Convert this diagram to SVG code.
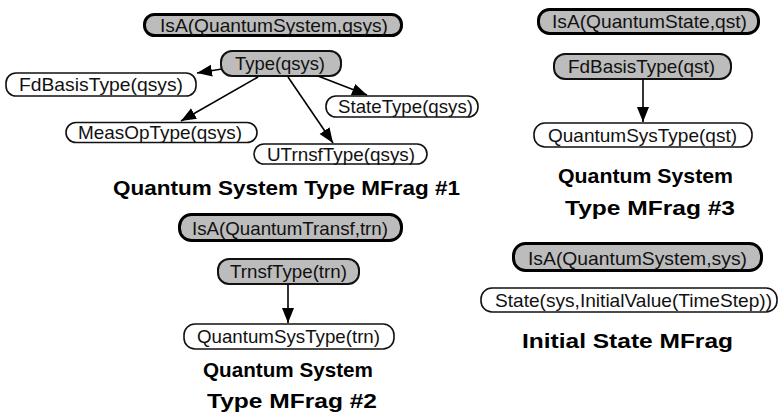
<svg xmlns="http://www.w3.org/2000/svg" width="780" height="416" viewBox="0 0 780 416">
  <defs>
    <marker id="arrow" markerUnits="userSpaceOnUse" markerWidth="16" markerHeight="14" refX="15" refY="6" orient="auto">
      <path d="M0,0 L15,6 L0,12 Z" fill="#000"/>
    </marker>
    <style>
      .ctx rect { fill: #bcbcbc; stroke: #000; stroke-width: 3; }
      .res rect { fill: #bcbcbc; stroke: #111; stroke-width: 2; }
      .inp rect { fill: #fff; stroke: #111; stroke-width: 1.6; }
      .lbl { font-family: "Liberation Sans", Arial, sans-serif; font-size: 18.5px; fill: #111; text-anchor: middle; }
      .title { font-family: "Liberation Sans", Arial, sans-serif; font-weight: bold; font-size: 21px; fill: #000; text-anchor: middle; }
      .edges line { stroke: #000; stroke-width: 1.6; marker-end: url(#arrow); }
    </style>
  </defs>
  <rect width="780" height="416" fill="#fff"/>

  <!-- Quantum System Type MFrag #1 -->
  <g id="isa_quantumsystem_qsys" class="ctx">
    <rect x="144.5" y="14.5" width="257" height="21" rx="10"/>
    <text class="lbl" x="274" y="31.5" textLength="228" lengthAdjust="spacingAndGlyphs">IsA(QuantumSystem,qsys)</text>
  </g>
  <g id="type_qsys" class="res">
    <rect x="221" y="51" width="120" height="25" rx="11"/>
    <text class="lbl" x="280" y="69.5" textLength="90" lengthAdjust="spacingAndGlyphs">Type(qsys)</text>
  </g>
  <g id="fdbasistype_qsys" class="inp">
    <rect x="6" y="73" width="190" height="23" rx="10"/>
    <text class="lbl" x="101" y="91" textLength="164" lengthAdjust="spacingAndGlyphs">FdBasisType(qsys)</text>
  </g>
  <g id="statetype_qsys" class="inp">
    <rect x="326" y="96" width="152" height="21" rx="10"/>
    <text class="lbl" x="405.5" y="112.5" textLength="135" lengthAdjust="spacingAndGlyphs">StateType(qsys)</text>
  </g>
  <g id="measoptype_qsys" class="inp">
    <rect x="66" y="122.5" width="191" height="20" rx="10"/>
    <text class="lbl" x="160" y="138.5" textLength="164" lengthAdjust="spacingAndGlyphs">MeasOpType(qsys)</text>
  </g>
  <g id="utrnsftype_qsys" class="inp">
    <rect x="254" y="144" width="173" height="20" rx="10"/>
    <text class="lbl" x="341" y="160.5" textLength="148" lengthAdjust="spacingAndGlyphs">UTrnsfType(qsys)</text>
  </g>
  <text class="title" x="286.5" y="195" textLength="347" lengthAdjust="spacingAndGlyphs">Quantum System Type MFrag #1</text>

  <!-- Quantum System Type MFrag #3 -->
  <g id="isa_quantumstate_qst" class="ctx">
    <rect x="538.5" y="9.5" width="220" height="24" rx="11"/>
    <text class="lbl" x="649.5" y="28" textLength="195" lengthAdjust="spacingAndGlyphs">IsA(QuantumState,qst)</text>
  </g>
  <g id="fdbasistype_qst" class="res">
    <rect x="554" y="54" width="177" height="25" rx="11"/>
    <text class="lbl" x="641.5" y="73" textLength="147" lengthAdjust="spacingAndGlyphs">FdBasisType(qst)</text>
  </g>
  <g id="quantumsystype_qst" class="inp">
    <rect x="534" y="123" width="218" height="24" rx="11"/>
    <text class="lbl" x="642.5" y="141.5" textLength="189" lengthAdjust="spacingAndGlyphs">QuantumSysType(qst)</text>
  </g>
  <text class="title" x="645.5" y="183" textLength="175" lengthAdjust="spacingAndGlyphs">Quantum System</text>
  <text class="title" x="650" y="215" textLength="170" lengthAdjust="spacingAndGlyphs">Type MFrag #3</text>

  <!-- Quantum System Type MFrag #2 -->
  <g id="isa_quantumtransf_trn" class="ctx">
    <rect x="179.5" y="214.5" width="222" height="26" rx="12"/>
    <text class="lbl" x="290" y="234.5" textLength="196" lengthAdjust="spacingAndGlyphs">IsA(QuantumTransf,trn)</text>
  </g>
  <g id="trnsftype_trn" class="res">
    <rect x="218" y="259" width="141" height="25" rx="11"/>
    <text class="lbl" x="288.5" y="278" textLength="117" lengthAdjust="spacingAndGlyphs">TrnsfType(trn)</text>
  </g>
  <g id="quantumsystype_trn" class="inp">
    <rect x="184" y="324" width="210" height="25" rx="11"/>
    <text class="lbl" x="288.5" y="343" textLength="183" lengthAdjust="spacingAndGlyphs">QuantumSysType(trn)</text>
  </g>
  <text class="title" x="288" y="377" textLength="170" lengthAdjust="spacingAndGlyphs">Quantum System</text>
  <text class="title" x="292" y="408" textLength="170" lengthAdjust="spacingAndGlyphs">Type MFrag #2</text>

  <!-- Initial State MFrag -->
  <g id="isa_quantumsystem_sys" class="ctx">
    <rect x="513.5" y="243.5" width="248" height="27" rx="12"/>
    <text class="lbl" x="637.5" y="264.5" textLength="219" lengthAdjust="spacingAndGlyphs">IsA(QuantumSystem,sys)</text>
  </g>
  <g id="state_sys_initialvalue" class="inp">
    <rect x="481" y="288" width="296" height="24" rx="11"/>
    <text class="lbl" x="633.5" y="306.5" textLength="277" lengthAdjust="spacingAndGlyphs">State(sys,InitialValue(TimeStep))</text>
  </g>
  <text class="title" x="627.5" y="348" textLength="211" lengthAdjust="spacingAndGlyphs">Initial State MFrag</text>

  <!-- Connectors -->
  <g id="connectors" class="edges">
    <line x1="222" y1="69" x2="197" y2="73"/>
    <line x1="258" y1="77" x2="181" y2="121"/>
    <line x1="288" y1="77" x2="333" y2="143"/>
    <line x1="318" y1="76" x2="367" y2="95"/>
    <line x1="643" y1="79" x2="643" y2="122"/>
    <line x1="288" y1="284" x2="288" y2="323"/>
  </g>
</svg>
